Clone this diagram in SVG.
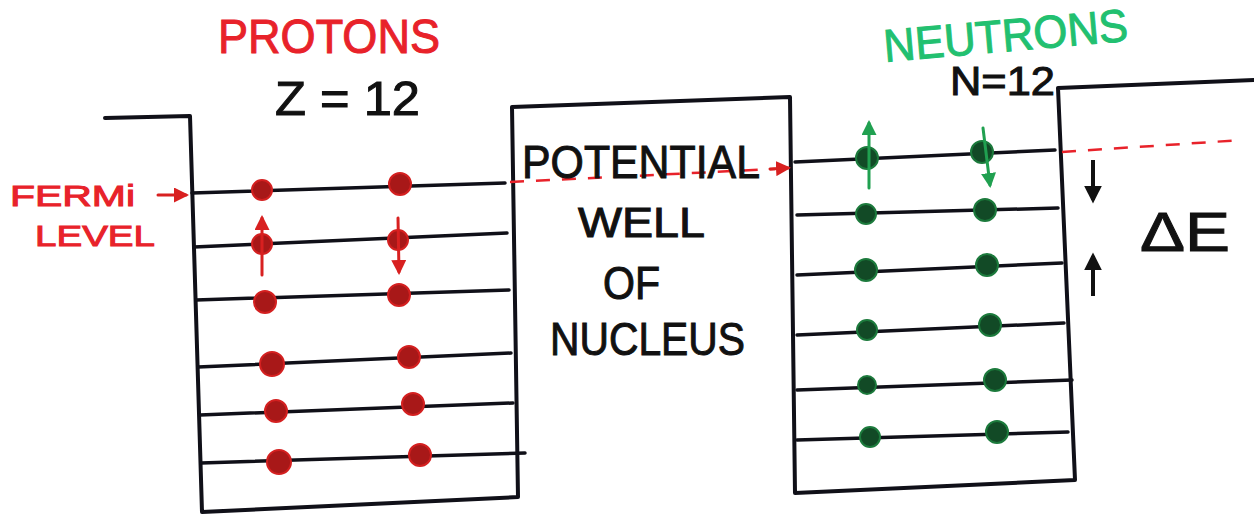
<svg xmlns="http://www.w3.org/2000/svg" width="1254" height="520" viewBox="0 0 1254 520">
<style>
.ln{stroke:#101018;stroke-width:4;fill:none;stroke-linecap:round;stroke-linejoin:round}
.lv{stroke:#101018;stroke-width:3.5;fill:none;stroke-linecap:round}
.red{fill:#e8222a;stroke:#e8222a;stroke-width:1;font-family:"Liberation Sans",Arial,sans-serif}
.blk{fill:#111;stroke:#111;stroke-width:1;font-family:"Liberation Sans",Arial,sans-serif}
.grn{fill:#22c070;stroke:#22c070;stroke-width:1;font-family:"Liberation Sans",Arial,sans-serif}
.pd{fill:#a81818;stroke:#d42020;stroke-width:2}
.nd{fill:#124a26;stroke:#1c7a3c;stroke-width:2}
.ra{stroke:#d82020;stroke-width:3;fill:none;stroke-linecap:round}
.ga{stroke:#20a050;stroke-width:3;fill:none;stroke-linecap:round}
.ka{stroke:#111;stroke-width:4;fill:none}
.dash{stroke:#e8222a;stroke-width:2.5;fill:none;stroke-dasharray:14 12}
</style>
<defs>
<marker id="rh" viewBox="0 0 10 10" refX="8" refY="5" markerWidth="5" markerHeight="5" orient="auto"><path d="M0,0 L10,5 L0,10 z" fill="#d82020"/></marker>
<marker id="gh" viewBox="0 0 10 10" refX="8" refY="5" markerWidth="5" markerHeight="5" orient="auto"><path d="M0,0 L10,5 L0,10 z" fill="#20a050"/></marker>
<marker id="kh" viewBox="0 0 10 10" refX="8" refY="5" markerWidth="4.5" markerHeight="4.5" orient="auto"><path d="M0,0 L10,5 L0,10 z" fill="#111"/></marker>
</defs>
<rect width="1254" height="520" fill="#ffffff"/>

<g id="wells">
<path class="ln" d="M105,118 L190,116 L202,512 L518,497 L512,107 L790,97 L795,493 L1075,480 L1058,88 L1254,80"/>
</g>

<g id="proton-levels">
<line class="lv" x1="192" y1="193" x2="505" y2="183"/>
<line class="lv" x1="194" y1="247" x2="507" y2="233"/>
<line class="lv" x1="196" y1="300" x2="509" y2="290"/>
<line class="lv" x1="198" y1="367" x2="511" y2="353"/>
<line class="lv" x1="200" y1="415" x2="513" y2="403"/>
<line class="lv" x1="201" y1="463" x2="525" y2="453"/>
</g>

<g id="protons">
<circle class="pd" cx="262" cy="190" r="10"/>
<circle class="pd" cx="400" cy="184" r="11"/>
<circle class="pd" cx="262" cy="244" r="10"/>
<circle class="pd" cx="398" cy="240" r="10"/>
<circle class="pd" cx="265" cy="302" r="11"/>
<circle class="pd" cx="399" cy="295" r="11"/>
<circle class="pd" cx="272" cy="364" r="12"/>
<circle class="pd" cx="409" cy="357" r="11"/>
<circle class="pd" cx="276" cy="411" r="11"/>
<circle class="pd" cx="413" cy="404" r="11"/>
<circle class="pd" cx="279" cy="462" r="12"/>
<circle class="pd" cx="420" cy="455" r="11"/>
<line class="ra" x1="262" y1="275" x2="262" y2="218" marker-end="url(#rh)"/>
<line class="ra" x1="398" y1="218" x2="399" y2="272" marker-end="url(#rh)"/>
</g>

<g id="neutron-levels">
<line class="lv" x1="795" y1="162" x2="1055" y2="150"/>
<line class="lv" x1="797" y1="215" x2="1058" y2="208"/>
<line class="lv" x1="797" y1="275" x2="1062" y2="263"/>
<line class="lv" x1="797" y1="335" x2="1064" y2="323"/>
<line class="lv" x1="797" y1="390" x2="1072" y2="380"/>
<line class="lv" x1="797" y1="440" x2="1068" y2="432"/>
</g>

<g id="neutrons">
<circle class="nd" cx="867" cy="158" r="11"/>
<circle class="nd" cx="982" cy="152" r="11"/>
<circle class="nd" cx="866" cy="214" r="10"/>
<circle class="nd" cx="985" cy="210" r="11"/>
<circle class="nd" cx="866" cy="270" r="11"/>
<circle class="nd" cx="987" cy="265" r="11"/>
<circle class="nd" cx="867" cy="330" r="10"/>
<circle class="nd" cx="990" cy="325" r="11"/>
<circle class="nd" cx="867" cy="385" r="9"/>
<circle class="nd" cx="995" cy="380" r="11"/>
<circle class="nd" cx="870" cy="437" r="10"/>
<circle class="nd" cx="997" cy="432" r="11"/>
<line class="ga" x1="869" y1="188" x2="869" y2="123" marker-end="url(#gh)"/>
<line class="ga" x1="983" y1="128" x2="990" y2="185" marker-end="url(#gh)"/>
</g>

<g id="fermi-level">
<text class="red" x="10" y="206" font-size="30" textLength="125" lengthAdjust="spacingAndGlyphs">FERMi</text>
<text class="red" x="35" y="246" font-size="30" textLength="120" lengthAdjust="spacingAndGlyphs">LEVEL</text>
<line class="ra" x1="158" y1="195" x2="186" y2="195" marker-end="url(#rh)"/>
<line class="dash" x1="510" y1="182" x2="775" y2="169"/>
<line class="ra" x1="770" y1="169" x2="788" y2="168" marker-end="url(#rh)"/>
<line class="dash" x1="1062" y1="152" x2="1242" y2="140"/>
</g>

<g id="labels">
<text class="red" x="218" y="53" font-size="48" textLength="222" lengthAdjust="spacingAndGlyphs">PROTONS</text>
<text class="blk" x="275" y="115" font-size="48" textLength="145" lengthAdjust="spacingAndGlyphs">Z = 12</text>
<text class="grn" x="885" y="62" font-size="46" textLength="245" lengthAdjust="spacingAndGlyphs" transform="rotate(-5 885 62)">NEUTRONS</text>
<text class="blk" x="950" y="95" font-size="40" textLength="105" lengthAdjust="spacingAndGlyphs">N=12</text>
<text class="blk" x="522" y="178" font-size="46" textLength="238" lengthAdjust="spacingAndGlyphs">POTENTIAL</text>
<text class="blk" x="578" y="237" font-size="42" textLength="127" lengthAdjust="spacingAndGlyphs">WELL</text>
<text class="blk" x="603" y="299" font-size="46" textLength="57" lengthAdjust="spacingAndGlyphs">OF</text>
<text class="blk" x="550" y="355" font-size="46" textLength="195" lengthAdjust="spacingAndGlyphs">NUCLEUS</text>
<text class="blk" x="1140" y="251" font-size="56" textLength="90" lengthAdjust="spacingAndGlyphs">ΔE</text>
</g>

<g id="delta-arrows">
<line class="ka" x1="1093" y1="160" x2="1093" y2="200" marker-end="url(#kh)"/>
<line class="ka" x1="1093" y1="296" x2="1093" y2="256" marker-end="url(#kh)"/>
</g>
</svg>
